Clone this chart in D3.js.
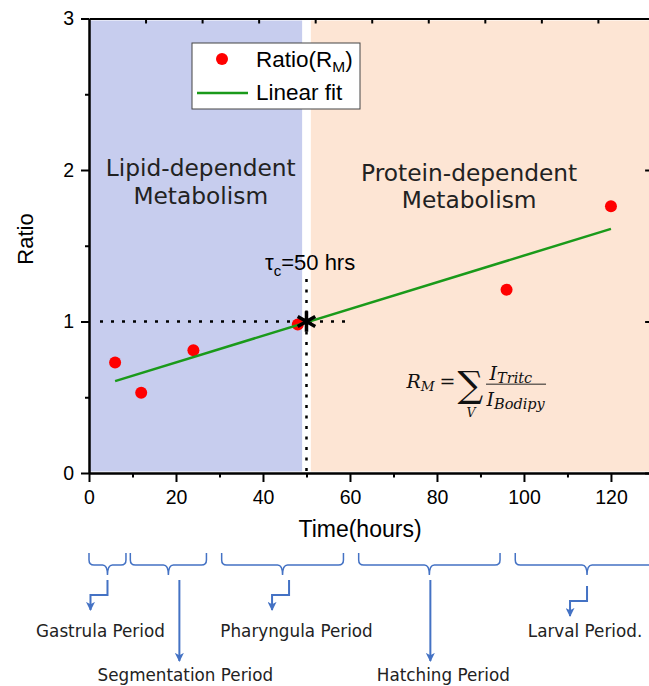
<!DOCTYPE html>
<html>
<head>
<meta charset="utf-8">
<script src="https://cdn.jsdelivr.net/npm/d3@7"></script>
<style>
  html, body { margin: 0; padding: 0; background: #fff; }
  svg { display: block; }
</style>
</head>
<body>
<svg id="chart" width="649" height="686"></svg>
<script>
// measured points (hours, ratio R_M)
const HOURS = [6, 12, 24, 48, 96, 120];
const RATIO = [0.73, 0.53, 0.81, 0.98, 1.21, 1.76];
const X_TICKS = [0, 20, 40, 60, 80, 100, 120];
const X_MINOR = [10, 30, 50, 70, 90, 110];
const Y_TICKS = [0, 1, 2, 3];
const Y_MINOR = [0.5, 1.5, 2.5];
const TOP_TICKS = [13, 26, 39, 52, 65, 78, 91, 104, 117];

const PHASE_NAMES = [["Lipid-dependent", "Metabolism"], ["Protein-dependent", "Metabolism"]];
const PHASE_START = [0, 51];
const PHASE_END = [49, 129];
const TAU_C = 50;

const PERIOD_NAMES = ["Gastrula Period", "Segmentation Period", "Pharyngula Period", "Hatching Period", "Larval Period."];
const PERIOD_START = [0, 9.5, 30.5, 62, 98];
const PERIOD_END = [8.5, 27, 58.5, 94.5, 131];

const svg = d3.select("#chart");
const x = d3.scaleLinear().domain([0, 129]).range([89, 650.1]);
const y = d3.scaleLinear().domain([0, 3]).range([473, 18.5]);

const sansFont = "'Liberation Sans', Arial, sans-serif";
const roundFont = "'DejaVu Sans', sans-serif";
const mathFont = "'DejaVu Serif', serif";
const PHASE_COLORS = ["#c7cdee", "#fde5d4"];

// shaded phases
svg.append("g")
  .selectAll("rect")
  .data(PHASE_START)
  .join("rect")
  .attr("x", (d) => x(d))
  .attr("y", y(3) + 2)
  .attr("width", (d, i) => x(PHASE_END[i]) - x(d))
  .attr("height", y(0) - y(3) - 3.5)
  .attr("fill", (d, i) => PHASE_COLORS[i]);

// phase labels
const phaseLabelPos = [[25.7, 1.96], [87.4, 1.93]];
PHASE_NAMES.forEach((lines, i) => {
  const t = svg.append("text")
    .attr("x", x(phaseLabelPos[i][0]))
    .attr("y", y(phaseLabelPos[i][1]))
    .attr("text-anchor", "middle")
    .style("font-family", roundFont)
    .style("font-size", "23.3px")
    .attr("fill", "#222");
  lines.forEach((s, j) => {
    t.append("tspan").attr("x", x(phaseLabelPos[i][0])).attr("dy", j === 0 ? 0 : 27.5).text(s);
  });
});

// dotted guides at tau_c
svg.append("line")
  .attr("x1", x(0) + 11).attr("x2", x(60))
  .attr("y1", y(1)).attr("y2", y(1))
  .attr("stroke", "#000").attr("stroke-width", 2.5)
  .attr("stroke-dasharray", "3,8");
svg.append("line")
  .attr("x1", x(TAU_C)).attr("x2", x(TAU_C))
  .attr("y1", y(1.28)).attr("y2", y(0))
  .attr("stroke", "#000").attr("stroke-width", 2.5)
  .attr("stroke-dasharray", "3,7.5");

// data points
svg.append("g")
  .selectAll("circle")
  .data(HOURS)
  .join("circle")
  .attr("cx", (d) => x(d))
  .attr("cy", (d, i) => y(RATIO[i]))
  .attr("r", 6)
  .attr("fill", "#ff0000");

// least squares fit
const mx = d3.mean(HOURS), my = d3.mean(RATIO);
const sxy = d3.sum(HOURS, (h, i) => (h - mx) * (RATIO[i] - my));
const sxx = d3.sum(HOURS, (h) => (h - mx) * (h - mx));
const slope = sxy / sxx, intercept = my - slope * mx;
const fitX = d3.extent(HOURS);
svg.append("path")
  .datum(fitX)
  .attr("d", d3.line().x((d) => x(d)).y((d) => y(intercept + slope * d)))
  .attr("stroke", "#1a9a1a")
  .attr("stroke-width", 2.5)
  .attr("fill", "none");

// crossover star
svg.append("path")
  .attr("d", d3.symbol().type(d3.symbolAsterisk).size(290)())
  .attr("transform", `translate(${x(TAU_C)},${y(1)})`)
  .attr("stroke", "#000")
  .attr("stroke-width", 3.5)
  .attr("fill", "none");

// tau label
const tau = svg.append("text")
  .attr("x", 265).attr("y", y(1.34))
  .style("font-family", sansFont)
  .style("font-size", "22px");
tau.append("tspan").text("τ");
tau.append("tspan").attr("dy", 6).style("font-size", "15px").text("c");
tau.append("tspan").attr("dy", -6).text("=50 hrs");

// axes
function styleAxis(g, sw) {
  g.select(".domain").attr("stroke", "#000").attr("stroke-width", 2);
  g.selectAll(".tick line").attr("stroke", "#000").attr("stroke-width", sw);
  g.selectAll(".tick text")
    .style("font-family", sansFont)
    .style("font-size", "19.5px")
    .attr("fill", "#000");
}

svg.append("g")
  .attr("transform", `translate(0,${y(0)})`)
  .call(d3.axisBottom(x).tickValues(X_MINOR).tickSize(4.5).tickSizeOuter(0).tickFormat(""))
  .call((g) => styleAxis(g, 2));
svg.append("g")
  .attr("transform", `translate(0,${y(0)})`)
  .call(d3.axisBottom(x).tickValues(X_TICKS).tickSize(9).tickPadding(8).tickSizeOuter(0))
  .call((g) => styleAxis(g, 2));

svg.append("g")
  .attr("transform", `translate(${x(0)},0)`)
  .call(d3.axisLeft(y).tickValues(Y_MINOR).tickSize(4).tickSizeOuter(0).tickFormat(""))
  .call((g) => styleAxis(g, 2));
svg.append("g")
  .attr("transform", `translate(${x(0)},0)`)
  .call(d3.axisLeft(y).tickValues(Y_TICKS).tickSize(8).tickPadding(7).tickSizeOuter(0).tickFormat(d3.format("d")))
  .call((g) => styleAxis(g, 2));

svg.append("g")
  .attr("transform", `translate(0,${y(3)})`)
  .call(d3.axisTop(x).tickValues(TOP_TICKS).tickSize(-5).tickSizeOuter(0).tickFormat(""))
  .call((g) => styleAxis(g, 2));
svg.append("g")
  .attr("transform", `translate(${x(129)},0)`)
  .call(d3.axisRight(y).tickValues(Y_TICKS).tickSize(-5).tickSizeOuter(0).tickFormat(""))
  .call((g) => styleAxis(g, 2));

// axis titles
svg.append("text")
  .attr("x", 360).attr("y", 537)
  .attr("text-anchor", "middle")
  .style("font-family", sansFont)
  .style("font-size", "23px")
  .text("Time(hours)");
svg.append("text")
  .attr("transform", "translate(33,239) rotate(-90)")
  .attr("text-anchor", "middle")
  .style("font-family", sansFont)
  .style("font-size", "22px")
  .text("Ratio");

// legend
const legend = svg.append("g").attr("transform", "translate(192,43)");
legend.append("rect")
  .attr("width", 168).attr("height", 66)
  .attr("fill", "#fff").attr("stroke", "#444").attr("stroke-width", 1);
legend.append("circle").attr("cx", 30).attr("cy", 16).attr("r", 6).attr("fill", "#ff0000");
const lt = legend.append("text").attr("x", 64).attr("y", 24)
  .style("font-family", sansFont).style("font-size", "22.5px");
lt.append("tspan").text("Ratio(R");
lt.append("tspan").attr("dy", 5).style("font-size", "15.5px").text("M");
lt.append("tspan").attr("dy", -5).text(")");
legend.append("line").attr("x1", 5).attr("x2", 56).attr("y1", 50).attr("y2", 50)
  .attr("stroke", "#1a9a1a").attr("stroke-width", 2.5);
legend.append("text").attr("x", 64).attr("y", 57)
  .style("font-family", sansFont).style("font-size", "22.5px").text("Linear fit");

// formula R_M = sum_V I_Tritc / I_Bodipy
const fx = x(73), fy = y(0.56);
const f = svg.append("g").attr("transform", `translate(${fx},${fy})`)
  .style("font-family", mathFont).attr("fill", "#111");
const rm = f.append("text").attr("x", 0).attr("y", 0).style("font-size", "19px").style("font-style", "italic");
rm.append("tspan").text("R");
rm.append("tspan").attr("dy", 3).style("font-size", "13.5px").text("M");
f.append("text").attr("x", 33).attr("y", 0).style("font-size", "19px").text("=");
f.append("text").attr("x", 51).attr("y", 9).style("font-size", "36px").text("∑");
f.append("text").attr("x", 64.5).attr("y", 29).attr("text-anchor", "middle")
  .style("font-size", "12.5px").style("font-style", "italic").text("V");
const num = f.append("text").attr("x", 83).attr("y", -8).style("font-size", "19px").style("font-style", "italic");
num.append("tspan").text("I");
num.append("tspan").attr("dy", 3).style("font-size", "14.5px").text("Tritc");
f.append("line").attr("x1", 79.5).attr("x2", 139.5).attr("y1", -4).attr("y2", -4)
  .attr("stroke", "#222").attr("stroke-width", 1);
const den = f.append("text").attr("x", 80).attr("y", 18).style("font-size", "19px").style("font-style", "italic");
den.append("tspan").text("I");
den.append("tspan").attr("dy", 3).style("font-size", "14.5px").text("Bodipy");

// developmental periods below the axis
const defs = svg.append("defs");
defs.append("marker")
  .attr("id", "arrow")
  .attr("viewBox", "0 0 10 10")
  .attr("refX", 9).attr("refY", 5)
  .attr("markerWidth", 9).attr("markerHeight", 9)
  .attr("markerUnits", "userSpaceOnUse")
  .attr("orient", "auto")
  .append("path")
  .attr("d", "M0,0L10,5L0,10L2.5,5z")
  .attr("fill", "#4472c4");

const blue = "#4472c4";
const yTop = 553, yLine = 565, yTip = 575;
function bracePath(x0, x1) {
  const m = (x0 + x1) / 2;
  return `M${x0},${yTop} L${x0},${yLine - 5} Q${x0},${yLine} ${x0 + 5},${yLine} L${m - 5},${yLine} Q${m},${yLine} ${m},${yTip}` +
    ` M${m},${yTip} Q${m},${yLine} ${m + 5},${yLine} L${x1 - 5},${yLine} Q${x1},${yLine} ${x1},${yLine - 5} L${x1},${yTop}`;
}

// hand placed annotation offsets (px) from each bracket's middle
const arrowShift = [0, 11, 6.5, 1, 0];
const labelShift = [-7, 17, 14, 14, -2];
const periods = svg.append("g");
PERIOD_NAMES.forEach((name, i) => {
  const x0 = x(PERIOD_START[i]), x1 = x(PERIOD_END[i]);
  const m = (x0 + x1) / 2;
  const a = m + arrowShift[i];
  periods.append("path")
    .attr("d", bracePath(x0, x1))
    .attr("fill", "none").attr("stroke", blue).attr("stroke-width", 1.5);
  const elbow = i % 2 === 0;
  const drop = i === 4 ? 6 : 0;
  periods.append("path")
    .attr("d", elbow
      ? `M${a},${580 + drop} L${a},${595 + drop} L${a - 17},${595 + drop} L${a - 17},${610 + drop}`
      : `M${a},580 L${a},661`)
    .attr("fill", "none").attr("stroke", blue).attr("stroke-width", 2)
    .attr("marker-end", "url(#arrow)");
  periods.append("text")
    .attr("x", m + labelShift[i])
    .attr("y", elbow ? 637 : 681)
    .attr("text-anchor", "middle")
    .style("font-family", roundFont)
    .style("font-size", "16.8px")
    .attr("fill", "#222")
    .text(name);
});
</script>
</body>
</html>
